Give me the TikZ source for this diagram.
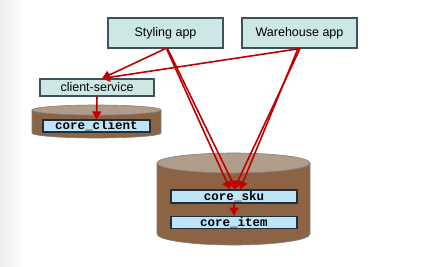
\documentclass[tikz,border=0pt]{standalone}
\usepackage{fontspec}
\setmainfont{Liberation Sans}
\setmonofont{Liberation Mono}
\usetikzlibrary{arrows.meta,positioning}
\definecolor{appfill}{RGB}{205,232,228}
\definecolor{appline}{RGB}{62,82,92}
\definecolor{corefill}{RGB}{190,228,248}
\definecolor{coreline}{RGB}{32,46,60}
\definecolor{dbbody}{RGB}{140,100,68}
\definecolor{dbtop}{RGB}{176,156,136}
\definecolor{dbline}{RGB}{128,128,138}
\definecolor{flowred}{RGB}{192,0,0}

\begin{document}
\begin{tikzpicture}[x=1pt,y=-1pt,node distance=12pt]
        \tikzstyle{appbox}=[draw=appline,fill=appfill,line width=1.1pt,minimum width=115pt,minimum height=30pt,inner sep=0pt,font=\fontsize{12.5}{14}\selectfont]
        \tikzstyle{svcbox}=[appbox,minimum width=114pt,minimum height=17pt]
        \tikzstyle{tablebox}=[draw=coreline,fill=corefill,line width=1.3pt,minimum height=12pt,inner sep=0pt,font=\fontsize{12.5}{13}\selectfont\ttfamily\bfseries]
        \tikzstyle{flow}=[-{Triangle[length=8pt,width=9pt]},flowred,line width=1.6pt]
        \useasboundingbox (0,0) rectangle (430,266);
        \shade[left color=black!7,right color=white] (0,0) rectangle (26,266);
        % small database
        \filldraw[fill=dbbody,draw=dbline,line width=0.6pt] (32,110) -- (32,133) arc[start angle=180,end angle=0,x radius=64.5,y radius=5] -- (161,110) -- cycle;
        \filldraw[fill=dbtop,draw=dbline,line width=0.6pt] (96.5,110) ellipse[x radius=64.5,y radius=5];
        % big database
        \filldraw[fill=dbbody,draw=dbline,line width=0.6pt] (157,163) -- (157,234) arc[start angle=180,end angle=0,x radius=76.5,y radius=11] -- (310,163) -- cycle;
        \filldraw[fill=dbtop,draw=dbline,line width=0.6pt] (233.5,163) ellipse[x radius=76.5,y radius=10];
        % nodes
        \node[appbox] (styling) at (165.5,33) {Styling app};
        \node[appbox] (warehouse) at (299.5,33) {Warehouse app};
        \node[svcbox] (client) at (97,87.5) {client-service};
        \node[tablebox,minimum width=107pt] (coreclient) at (96.5,126) {core\_client};
        \node[tablebox,minimum width=126pt,minimum height=13pt] (coresku) at (234,196.5) {core\_sku};
        \node[tablebox,minimum width=126pt,below=12pt of coresku] (coreitem) {core\_item};
        % arrows
        \draw[flow] (styling.south) -- ([xshift=5pt]client.north);
        \draw[flow] ([xshift=0.5pt]warehouse.south) -- ([xshift=5pt]client.north);
        \draw[flow] (client.south) -- (coreclient.north);
        \draw[flow] ([xshift=1pt]styling.south) -- ([xshift=-4pt]coresku.north);
        \draw[flow] ([xshift=2pt]styling.south) -- ([xshift=2pt]coresku.north);
        \draw[flow] ([xshift=0.5pt]warehouse.south) -- ([xshift=0pt]coresku.north);
        \draw[flow] ([xshift=-1.5pt]warehouse.south) -- ([xshift=6pt]coresku.north);
        \draw[flow] (coresku.south) -- (coreitem.north);
      \end{tikzpicture}
\end{document}
